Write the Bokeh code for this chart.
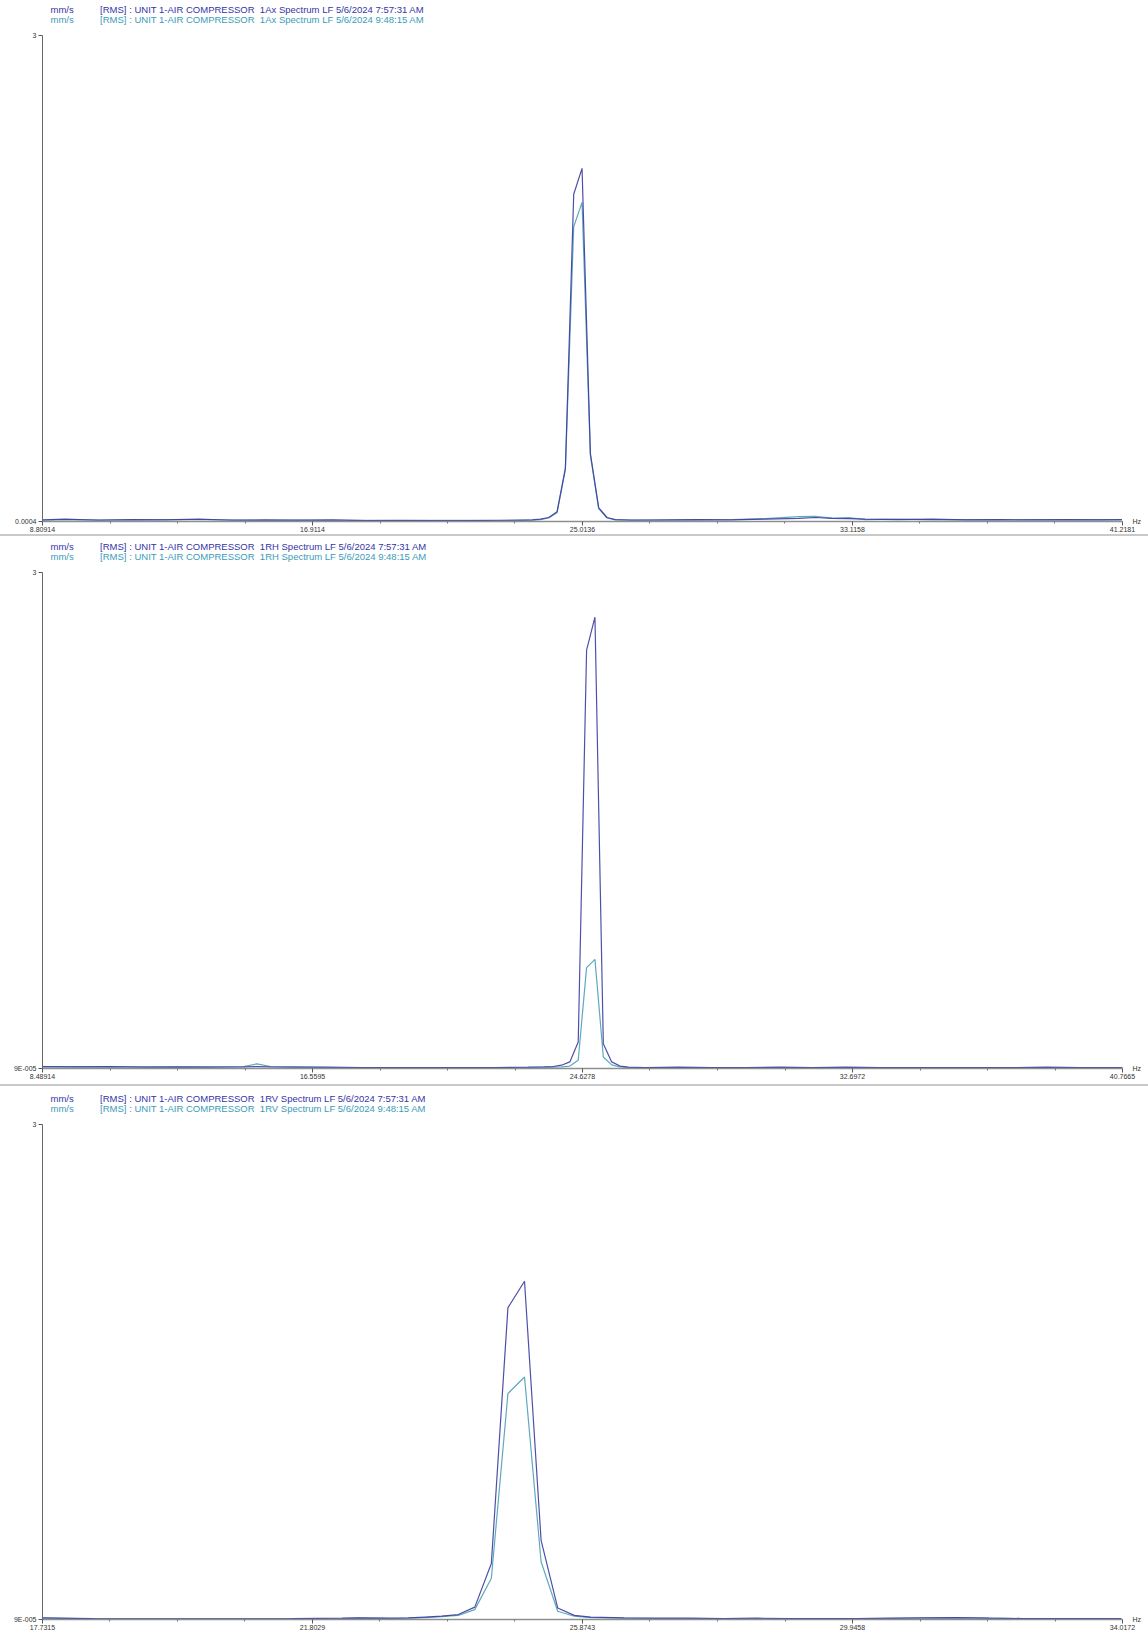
from bokeh.plotting import figure
from bokeh.models import Range1d, FixedTicker, Div, Title, LinearAxis
from bokeh.layouts import column
from bokeh.embed import file_html
from bokeh.resources import INLINE

UNIT = "mm/s"
TIME_A = "5/6/2024 7:57:31 AM"
TIME_B = "5/6/2024 9:48:15 AM"
PREFIX = "[RMS] : UNIT 1-AIR COMPRESSOR\u00a0 "
SUFFIX = " Spectrum LF "
CHANNELS = ["1Ax", "1RH", "1RV"]
Y_MAX = 3

# ---------------- Panel 1 : 1Ax ----------------
ax_freq = [8.81, 9.5, 10.5, 11.5, 12.5, 13.5, 14.5, 15.5, 16.5, 17.5, 18.5, 19.5,
           20.5, 21.5, 22.5, 23.25, 23.5, 23.75, 24.0, 24.25, 24.5, 24.75, 25.0,
           25.25, 25.5, 25.75, 26.0, 26.5, 27.5, 28.5, 29.5, 30.5, 31.5, 32.0,
           32.5, 33.0, 33.5, 34.5, 35.5, 36.5, 37.5, 38.5, 39.5, 40.5, 41.2]
ax_a = [0.010, 0.015, 0.008, 0.012, 0.010, 0.015, 0.008, 0.010, 0.008, 0.010, 0.006, 0.008,
        0.006, 0.006, 0.008, 0.008, 0.010, 0.015, 0.025, 0.060, 0.330, 2.020, 2.180,
        0.420, 0.085, 0.025, 0.012, 0.008, 0.010, 0.012, 0.010, 0.015, 0.020, 0.025,
        0.020, 0.018, 0.015, 0.012, 0.015, 0.010, 0.012, 0.010, 0.012, 0.010, 0.012]
ax_b = [0.008, 0.012, 0.010, 0.010, 0.012, 0.012, 0.010, 0.008, 0.010, 0.008, 0.008, 0.006,
        0.008, 0.008, 0.006, 0.010, 0.008, 0.012, 0.022, 0.055, 0.320, 1.820, 1.970,
        0.410, 0.080, 0.022, 0.010, 0.010, 0.008, 0.010, 0.012, 0.018, 0.030, 0.032,
        0.022, 0.025, 0.012, 0.015, 0.010, 0.012, 0.010, 0.012, 0.010, 0.012, 0.010]
ax_xticks = [8.80914, 16.9114, 25.0136, 33.1158, 41.2181]
ax_xlabels = ["8.80914", "16.9114", "25.0136", "33.1158", "41.2181"]
ax_ymin, ax_ymin_label = 0.0004, "0.0004"

# ---------------- Panel 2 : 1RH ----------------
rh_freq = [8.49, 9.5, 10.5, 11.5, 12.5, 13.5, 14.5, 14.9, 15.3, 16.0, 17.0, 18.0,
           19.0, 20.0, 21.0, 22.0, 23.0, 23.5, 23.75, 24.0, 24.25, 24.5, 24.75, 25.0,
           25.25, 25.5, 25.75, 26.0, 26.5, 27.5, 28.5, 29.5, 30.5, 31.5, 32.5,
           33.5, 34.5, 35.5, 36.5, 37.5, 38.5, 39.5, 40.77]
rh_a = [0.012, 0.010, 0.012, 0.008, 0.010, 0.008, 0.010, 0.012, 0.010, 0.008, 0.008, 0.006,
        0.006, 0.006, 0.006, 0.006, 0.008, 0.010, 0.012, 0.020, 0.040, 0.160, 2.530, 2.730,
        0.150, 0.040, 0.015, 0.008, 0.006, 0.008, 0.006, 0.006, 0.008, 0.006, 0.008,
        0.006, 0.006, 0.006, 0.006, 0.006, 0.008, 0.006, 0.006]
rh_b = [0.010, 0.012, 0.010, 0.010, 0.008, 0.010, 0.012, 0.028, 0.012, 0.010, 0.006, 0.006,
        0.006, 0.006, 0.006, 0.006, 0.006, 0.008, 0.008, 0.010, 0.015, 0.050, 0.610, 0.660,
        0.070, 0.022, 0.010, 0.006, 0.006, 0.006, 0.006, 0.006, 0.006, 0.006, 0.006,
        0.006, 0.006, 0.006, 0.006, 0.006, 0.006, 0.006, 0.006]
rh_xticks = [8.48914, 16.5595, 24.6278, 32.6972, 40.7665]
rh_xlabels = ["8.48914", "16.5595", "24.6278", "32.6972", "40.7665"]
rh_ymin, rh_ymin_label = 0.00009, "9E-005"

# ---------------- Panel 3 : 1RV ----------------
rv_freq = [17.73, 18.5, 19.5, 20.5, 21.5, 22.25, 22.5, 23.0, 23.25, 23.5, 23.75, 24.0,
           24.25, 24.5, 24.75, 25.0, 25.25, 25.5, 25.75, 26.0, 26.5, 27.0, 27.5, 28.0,
           28.5, 29.0, 29.5, 30.0, 30.5, 31.0, 31.5, 32.0, 32.5, 33.0, 33.5, 34.0]
rv_a = [0.010, 0.005, 0.004, 0.004, 0.005, 0.008, 0.010, 0.008, 0.010, 0.015, 0.020, 0.030,
        0.075, 0.340, 1.890, 2.050, 0.480, 0.070, 0.025, 0.015, 0.010, 0.008, 0.008, 0.006,
        0.008, 0.006, 0.006, 0.006, 0.008, 0.010, 0.012, 0.008, 0.006, 0.006, 0.006, 0.006]
rv_b = [0.008, 0.004, 0.004, 0.004, 0.004, 0.006, 0.008, 0.006, 0.008, 0.012, 0.018, 0.025,
        0.060, 0.250, 1.370, 1.470, 0.350, 0.050, 0.020, 0.012, 0.008, 0.006, 0.006, 0.006,
        0.006, 0.006, 0.006, 0.006, 0.006, 0.008, 0.010, 0.008, 0.006, 0.006, 0.006, 0.006]
rv_xticks = [17.7315, 21.8029, 25.8743, 29.9458, 34.0172]
rv_xlabels = ["17.7315", "21.8029", "25.8743", "29.9458", "34.0172"]
rv_ymin, rv_ymin_label = 0.00009, "9E-005"

# ---------------- styling ----------------
HEAD_FONT = "Liberation Sans"
TICK_FONT = "Liberation Sans"
COL_A_TEXT = "#3434a6"
COL_B_TEXT = "#3a9cb8"
COL_A_LINE = "#3c3c9e"
COL_B_LINE = "#5eaabd"
W = 1148
LEFT, RIGHT = 42, 26
GAP = "\u00a0" * 10


def make_panel(channel, freq, a, b, xticks, xlabels, ymin, ymin_label, height, top, bottom):
    p = figure(width=W, height=height, output_backend="svg", toolbar_location=None,
               x_range=Range1d(xticks[0], xticks[-1]), y_range=Range1d(ymin, Y_MAX),
               min_border_left=LEFT, min_border_right=RIGHT,
               min_border_top=top, min_border_bottom=bottom,
               background_fill_color="white", border_fill_color="white")
    p.outline_line_color = None
    p.grid.visible = False

    p.line(freq, b, line_color=COL_B_LINE, line_width=1.2)
    p.line(freq, a, line_color=COL_A_LINE, line_width=1.2, line_alpha=0.9)

    minor = [x0 + (x1 - x0) * k / 4 for x0, x1 in zip(xticks[:-1], xticks[1:]) for k in (1, 2, 3)]
    xa = p.xaxis[0]
    xa.ticker = FixedTicker(ticks=xticks, minor_ticks=minor)
    xa.major_label_overrides = {t: l for t, l in zip(xticks, xlabels)}
    xa.axis_line_color = "#8f8f8f"
    xa.axis_line_width = 1.5
    xa.major_tick_line_color = "#555555"
    xa.major_tick_out = 4
    xa.major_tick_in = 0
    xa.minor_tick_line_color = "#777777"
    xa.minor_tick_out = 2
    xa.minor_tick_in = 0
    xa.major_label_standoff = 1
    xa.major_label_text_font_size = "7px"
    xa.major_label_text_font = TICK_FONT
    xa.major_label_text_color = "#333333"

    ya = p.yaxis[0]
    ya.ticker = FixedTicker(ticks=[ymin, Y_MAX])
    ya.major_label_overrides = {ymin: ymin_label, Y_MAX: str(Y_MAX)}
    ya.axis_line_color = "#666666"
    ya.major_tick_line_color = "#555555"
    ya.major_tick_out = 4
    ya.major_tick_in = 0
    ya.minor_tick_line_color = None
    ya.major_label_standoff = 2
    ya.major_label_text_font_size = "7px"
    ya.major_label_text_font = TICK_FONT
    ya.major_label_text_color = "#333333"

    # "Hz" unit at the right end of the frequency axis
    hz = LinearAxis(ticker=FixedTicker(ticks=[ymin]), major_label_overrides={ymin: "Hz"},
                    axis_line_color=None, major_tick_line_color=None, minor_tick_line_color=None,
                    major_label_standoff=4, major_label_text_font_size="7px",
                    major_label_text_font=TICK_FONT, major_label_text_color="#333333",
                    major_label_text_baseline="top")
    p.add_layout(hz, "right")

    # header rows (first added sits closest to the frame); first entry is a spacer
    rows = [(" ", "white", -2),
            (UNIT + GAP + PREFIX + channel + SUFFIX + TIME_B, COL_B_TEXT, 0),
            (UNIT + GAP + PREFIX + channel + SUFFIX + TIME_A, COL_A_TEXT, -7)]
    for txt, c, so in rows:
        p.add_layout(Title(text=txt, align="left", offset=8, standoff=so,
                           text_font=HEAD_FONT, text_font_size="9.5px",
                           text_font_style="normal", text_color=c), "above")
    return p


def sep():
    return Div(text="", width=W, height=2, margin=0, styles={"background-color": "#c9c9c9"})


p1 = make_panel(CHANNELS[0], ax_freq, ax_a, ax_b, ax_xticks, ax_xlabels, ax_ymin, ax_ymin_label, 534, 35, 13)
p2 = make_panel(CHANNELS[1], rh_freq, rh_a, rh_b, rh_xticks, rh_xlabels, rh_ymin, rh_ymin_label, 548, 36, 16)
p3 = make_panel(CHANNELS[2], rv_freq, rv_a, rv_b, rv_xticks, rv_xlabels, rv_ymin, rv_ymin_label, 546, 38, 12)

layout = column(p1, sep(), p2, sep(), p3, spacing=0)
open("out.html", "w").write(file_html(layout, INLINE))
